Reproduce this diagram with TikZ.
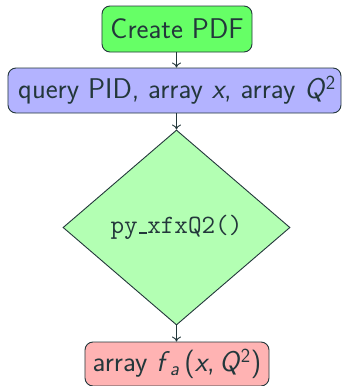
\documentclass[tikz,border=0pt]{standalone}
\usetikzlibrary{shapes.geometric,arrows.meta}
\definecolor{ink}{HTML}{23373B}
\definecolor{cgreen}{HTML}{66FF66}
\definecolor{cblue}{HTML}{B3B3FF}
\definecolor{cdia}{HTML}{B3FFB3}
\definecolor{cred}{HTML}{FFB3B3}
\newcommand{\lowbar}{\leavevmode\kern.06em\vbox{\hrule width .3em height 1.3bp}}
\tikzset{
  box/.style={draw=ink, line width=0.9bp, rounded corners=8bp, inner sep=0pt, text=ink,
    font=\fontsize{28.5bp}{33bp}\selectfont\sffamily},
  dia/.style={diamond, draw=ink, line width=0.9bp, inner sep=0pt, text=ink, fill=cdia,
    font=\fontsize{26.4bp}{30bp}\selectfont\ttfamily},
  conn/.style={draw=ink, line width=0.9bp, -{To[length=5bp,width=9bp]}}
}
\begin{document}
\begin{tikzpicture}[x=1bp,y=-1bp]
\useasboundingbox (0,0) rectangle (342,386);
\node[box, fill=cgreen, minimum width=150bp, minimum height=46bp] (create) at (177,29) {Create PDF};
\node[box, fill=cblue, minimum width=333bp, minimum height=45bp] (query) at (174.5,90.5) {\hspace*{5bp}query PID, array \textsl{x}, array \textsl{Q}\textsuperscript{2}};
\node[dia, minimum width=227bp, minimum height=195bp] (call) at (176.5,227.5) {py\lowbar xfxQ2()};
\node[box, fill=cred, minimum width=184bp, minimum height=44bp] (out) at (177,364) {array \textsl{f}\textsubscript{\textsl{a}}\,(\textsl{x},\,\textsl{Q}\textsuperscript{2})};
\draw[conn] (create.south -| call.north) -- (query.north -| call.north);
\draw[conn] (query.south -| call.north) -- (call.north);
\draw[conn] (call.south) -- (out.north -| call.south);
\end{tikzpicture}
\end{document}
